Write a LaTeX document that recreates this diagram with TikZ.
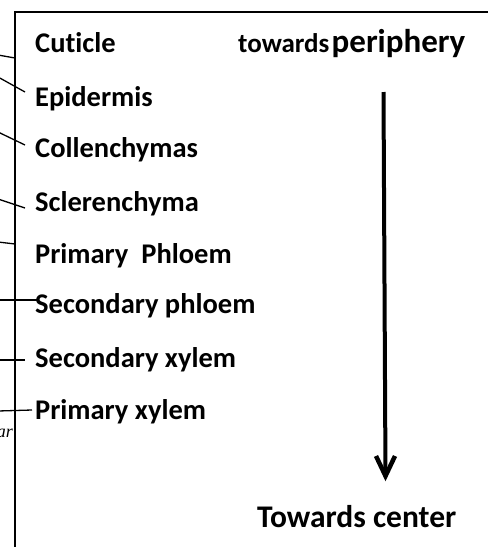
\documentclass[tikz,border=0pt]{standalone}
\usepackage{fontspec}
\setmainfont[Ligatures=NoCommon]{Carlito}
\newfontfamily\serifit{Liberation Serif}
\usetikzlibrary{arrows.meta}
\begin{document}
\begin{tikzpicture}[x=1pt,y=-1pt,
  lbl/.style={anchor=base west,inner sep=0pt,font=\fontsize{28.5}{30}\selectfont\bfseries},
  big/.style={anchor=base west,inner sep=0pt,font=\fontsize{31.5}{34}\selectfont\bfseries},
  leader/.style={line width=1.3pt},
  frame/.style={line width=1.6pt},
  shaft/.style={line width=4pt}]
\useasboundingbox (0,0) rectangle (490,547);
% frame
\coordinate (fb) at (15,560);
\coordinate (fc) at (15,12);
\coordinate (fr) at (488,12);
\draw[frame] (fb) -- (fc) -- (fr);
% labels
\node[lbl] (cut) at (35,52) {Cuticle};
\node[lbl] (epi) at (35,106) {Epidermis};
\node[lbl] (col) at (35,157) {Collenchymas};
\node[lbl] (scl) at (35,211) {Sclerenchyma};
\node[lbl] (pph) at (35,263) {Primary\ \ Phloem};
\node[lbl] (sph) at (35,313) {Secondary phloem};
\node[lbl] (sxy) at (35,367) {Secondary xylem};
\node[lbl] (pxy) at (35,419) {Primary xylem};
\node[anchor=base west,inner sep=0pt] (per) at (238,52) {\bfseries{\fontsize{27}{30}\selectfont towards} {\fontsize{33}{36}\selectfont periphery}};
\node[big] (cen) at (257,527) {Towards center};
\node[anchor=base east,inner sep=0pt,font=\serifit\itshape\fontsize{18}{20}\selectfont] (ar) at (13,437) {ar};
% leader lines
\coordinate (a1) at (-2,55);  \coordinate (b1) at (15,58);
\coordinate (a2) at (-2,77);  \coordinate (b2) at (25,92);
\coordinate (a3) at (-2,132); \coordinate (b3) at (25,145);
\coordinate (a4) at (-2,199); \coordinate (b4) at (25,208);
\coordinate (a5) at (-2,242); \coordinate (b5) at (15,244);
\coordinate (a6) at (-2,300); \coordinate (b6) at (37,300);
\coordinate (a7) at (-2,360); \coordinate (b7) at (25,360);
\coordinate (a8) at (-2,411); \coordinate (b8) at (32,410);
\foreach \i in {1,...,8} {\draw[leader] (a\i) -- (b\i);}
% arrow
\coordinate (as) at (383.5,92);
\coordinate (ae) at (385.5,476);
\coordinate (wl) at (376,456);
\coordinate (wr) at (395,456);
\draw[shaft] (as) -- (ae);
\draw[line width=4.5pt,miter limit=10] (wl) -- (ae) -- (wr);
\end{tikzpicture}
\end{document}
